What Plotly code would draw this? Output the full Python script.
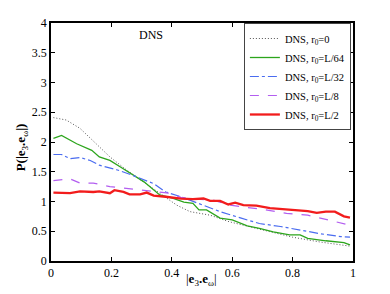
import plotly.graph_objects as go

# ---- data ----
x_r0 = [0.008, 0.05, 0.096, 0.15, 0.195, 0.25, 0.306, 0.36, 0.416, 0.46, 0.49, 0.527, 0.59, 0.70, 0.80, 0.89, 0.99]
y_r0 = [2.41, 2.37, 2.23, 1.97, 1.75, 1.53, 1.33, 1.13, 0.94, 0.83, 0.80, 0.77, 0.66, 0.52, 0.40, 0.32, 0.25]

x_r64 = [0.008, 0.035, 0.085, 0.135, 0.16, 0.195, 0.23, 0.308, 0.36, 0.40, 0.44, 0.47, 0.49, 0.515, 0.56, 0.60, 0.65, 0.69, 0.736, 0.79, 0.825, 0.85, 0.91, 0.97, 0.99]
y_r64 = [2.06, 2.11, 1.97, 1.86, 1.75, 1.69, 1.58, 1.33, 1.11, 1.06, 0.99, 0.97, 0.86, 0.86, 0.72, 0.69, 0.59, 0.55, 0.49, 0.44, 0.44, 0.38, 0.34, 0.31, 0.27]

x_r32 = [0.008, 0.035, 0.063, 0.096, 0.13, 0.16, 0.22, 0.27, 0.34, 0.38, 0.43, 0.49, 0.56, 0.63, 0.69, 0.76, 0.82, 0.89, 0.96, 0.99]
y_r32 = [1.79, 1.79, 1.72, 1.74, 1.69, 1.61, 1.53, 1.44, 1.30, 1.16, 1.08, 0.97, 0.83, 0.72, 0.63, 0.58, 0.52, 0.46, 0.41, 0.40]

x_r8 = [0.008, 0.063, 0.096, 0.14, 0.195, 0.25, 0.306, 0.36, 0.39, 0.43, 0.46, 0.54, 0.59, 0.65, 0.71, 0.78, 0.85, 0.91, 0.99]
y_r8 = [1.35, 1.38, 1.31, 1.31, 1.25, 1.22, 1.19, 1.16, 1.14, 1.07, 1.05, 1.02, 0.94, 0.90, 0.86, 0.80, 0.77, 0.70, 0.60]

x_r2 = [0.008, 0.063, 0.096, 0.14, 0.16, 0.195, 0.21, 0.24, 0.26, 0.295, 0.317, 0.34, 0.38, 0.43, 0.47, 0.505, 0.527, 0.56, 0.587, 0.61, 0.637, 0.68, 0.725, 0.78, 0.81, 0.85, 0.88, 0.91, 0.94, 0.97, 0.99]
y_r2 = [1.15, 1.14, 1.17, 1.16, 1.17, 1.14, 1.19, 1.16, 1.12, 1.12, 1.15, 1.10, 1.08, 1.05, 1.04, 1.05, 1.01, 1.01, 0.95, 0.98, 0.94, 0.93, 0.89, 0.87, 0.86, 0.84, 0.81, 0.83, 0.83, 0.75, 0.73]

x_ticks = [0, 0.2, 0.4, 0.6, 0.8, 1]
x_tick_labels = ["0", "0.2", "0.4", "0.6", "0.8", "1"]
y_ticks = [0, 0.5, 1, 1.5, 2, 2.5, 3, 3.5, 4]
y_tick_labels = ["0", "0.5", "1", "1.5", "2", "2.5", "3", "3.5", "4"]

names = ["DNS, r<sub>0</sub>=0", "DNS, r<sub>0</sub>=L/64", "DNS, r<sub>0</sub>=L/32",
         "DNS, r<sub>0</sub>=L/8", "DNS, r<sub>0</sub>=L/2"]

x_title = "|<b>e</b><sub>3</sub><b>.e</b><sub>ω</sub>|"
y_title = "<b>P(|e</b><sub>3</sub><b>.e</b><sub>ω</sub><b>|)</b>"
panel_label = "DNS"

FONT = "Liberation Serif"

fig = go.Figure()
series = [
    (x_r0, y_r0, dict(color="#555555", width=1.0, dash="1px,2px")),
    (x_r64, y_r64, dict(color="#2ca51c", width=1.3)),
    (x_r32, y_r32, dict(color="#4a6cf0", width=1.2, dash="dashdot")),
    (x_r8, y_r8, dict(color="#b35ef0", width=1.2, dash="dash")),
    (x_r2, y_r2, dict(color="#f21c1c", width=2.3)),
]
for (xs, ys, ln), nm in zip(series, names):
    fig.add_trace(go.Scatter(x=xs, y=ys, mode="lines", name=nm, line=ln))

axis_common = dict(
    showline=True, linecolor="black", linewidth=1.5, mirror="ticks",
    ticks="inside", ticklen=4, tickcolor="black", tickwidth=1,
    showgrid=False, zeroline=False, automargin=False,
    tickfont=dict(family=FONT, size=12, color="black"),
)

fig.update_layout(
    width=390, height=294,
    margin=dict(l=51, r=37, t=23, b=33),
    paper_bgcolor="white", plot_bgcolor="white",
    font=dict(family=FONT, size=12, color="black"),
    xaxis=dict(range=[0, 1], tickvals=x_ticks, ticktext=x_tick_labels, **axis_common),
    yaxis=dict(range=[0, 4], tickvals=y_ticks, ticktext=y_tick_labels, **axis_common),
    legend=dict(x=0.993, y=1.0, xanchor="right", yanchor="top",
                bgcolor="white", bordercolor="#444444", borderwidth=1,
                font=dict(family=FONT, size=10.5, color="black"),
                tracegroupgap=0, itemwidth=30),
    showlegend=True,
)
fig.add_annotation(x=0.33, y=3.8, text=panel_label, showarrow=False,
                   font=dict(family=FONT, size=12, color="black"))
fig.add_annotation(xref="paper", yref="paper", x=0.499, y=-0.078, text=x_title,
                   showarrow=False, xanchor="center", yanchor="middle",
                   font=dict(family=FONT, size=13, color="black"))
fig.add_annotation(xref="paper", yref="paper", x=-0.099, y=0.478, text=y_title,
                   showarrow=False, textangle=-90, xanchor="center", yanchor="middle",
                   font=dict(family=FONT, size=13, color="black"))

fig.write_html("out.html", config={"displayModeBar": False},
               post_script="document.body.style.margin='0px';")
